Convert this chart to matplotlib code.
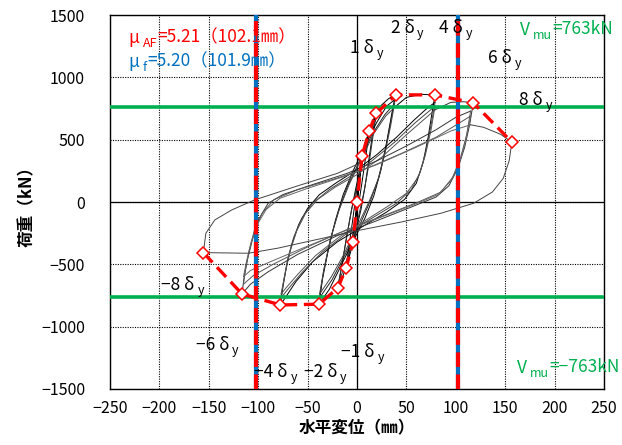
import numpy as np
import matplotlib
matplotlib.use('Agg')
import matplotlib.pyplot as plt

plt.rcParams['font.family'] = ['Noto Sans CJK JP', 'DejaVu Sans']
plt.rcParams['axes.unicode_minus'] = True

# envelope (skeleton) points, mm / kN
env_x = [-155.6, -116.4, -77.6, -38.5, -19.5, -11.1, -4.0, 0.0, 5.1, 12.5, 19.2, 39.5, 79.0, 117.7, 156.8]
env_y = [-406, -738, -826, -820, -690, -532, -320, 0, 371, 572, 711, 860, 860, 796, 481]

# hysteresis cycles (x in mm, y in kN), traced by eye
loop_pre1 = [(0, 0), (2, 160), (5.1, 371), (4, 280), (2, 120), (0, -20), (-2, -170), (-4, -320),
             (-3, -230), (-1, -80), (0, 0)]
loop_pre2 = [(0, 0), (4, 300), (8, 470), (12.5, 572), (10, 430), (6, 210), (2, 0), (-3, -200),
             (-7, -380), (-11.1, -532), (-9, -400), (-5, -180), (-1, 60), (3, 280), (8, 450)]
loop_1dy_a = [(8, 450), (12, 560), (15, 630), (19.2, 711), (16, 560), (12, 340), (8, 120), (4, -60),
              (-3, -300), (-10, -500), (-15, -610), (-19.5, -690), (-16, -540), (-11, -300),
              (-6, -80), (-1, 120), (5, 330), (11, 520), (19.2, 690)]
loop_1dy_b = [(19.2, 690), (16, 520), (12, 300), (7, 80), (2, -100), (-5, -330), (-12, -500),
              (-19, -660), (-15, -490), (-10, -260), (-5, -40), (1, 160), (7, 370), (13, 560), (19.2, 670)]
loop_2dy_a = [(19.2, 670), (25, 780), (32, 830), (39, 858), (35, 700), (30, 480), (24, 250), (17, 50),
              (8, -130), (-5, -330), (-18, -540), (-28, -700), (-38.5, -820), (-35, -620), (-29, -380),
              (-22, -150), (-14, 60), (-4, 250), (8, 450), (20, 640), (30, 770), (38, 820)]
loop_2dy_b = [(38, 820), (34, 640), (29, 430), (22, 200), (14, 20), (3, -180), (-12, -420), (-25, -620),
              (-38, -770), (-34, -560), (-27, -300), (-19, -80), (-10, 120), (2, 320), (15, 540),
              (28, 700), (38, 790)]
loop_2dy_c = [(38, 790), (34, 610), (28, 380), (21, 170), (12, 0), (0, -200), (-14, -430), (-26, -600),
              (-38, -740), (-33, -520), (-26, -270), (-18, -60), (-8, 140), (4, 340), (17, 550),
              (29, 690), (38, 760)]
loop_4dy_a = [(38, 760), (50, 840), (65, 865), (79, 858), (76, 720), (72, 520), (67, 320), (60, 150),
              (48, 20), (30, -80), (5, -200), (-20, -320), (-45, -480), (-62, -640), (-72, -760),
              (-77.6, -826), (-75, -680), (-71, -500), (-66, -340), (-59, -180), (-50, -50),
              (-38, 60), (-20, 160), (0, 260), (20, 380), (40, 520), (58, 660), (72, 760), (79, 800)]
loop_4dy_b = [(79, 800), (75, 620), (70, 420), (64, 240), (55, 100), (40, -10), (15, -130), (-10, -250),
              (-35, -400), (-55, -560), (-70, -700), (-77, -770), (-74, -620), (-70, -450), (-64, -280),
              (-56, -130), (-45, -10), (-28, 100), (-8, 200), (15, 330), (38, 480), (58, 630), (79, 770)]
loop_4dy_c = [(79, 770), (75, 580), (69, 370), (62, 200), (50, 70), (32, -30), (8, -150), (-18, -280),
              (-42, -430), (-60, -580), (-72, -690), (-77, -740), (-73, -580), (-68, -400), (-61, -230),
              (-52, -90), (-40, 20), (-22, 120), (0, 220), (25, 360), (50, 540), (79, 740)]
loop_6dy_a = [(79, 740), (95, 800), (108, 805), (117.7, 796), (114, 620), (109, 440), (102, 270),
              (93, 130), (80, 40), (55, -40), (20, -150), (-20, -270), (-60, -420), (-90, -560),
              (-108, -660), (-116.4, -738), (-114.7, -625), (-111, -465), (-106, -305), (-100, -144),
              (-90, -10), (-75, 60), (-45, 140), (-10, 230), (20, 330), (50, 450), (80, 580),
              (100, 680), (115, 730)]
loop_6dy_b = [(115, 730), (111, 540), (105, 360), (97, 200), (85, 80), (62, 0), (30, -100), (-10, -220),
              (-50, -360), (-85, -500), (-105, -590), (-115, -660), (-113, -540), (-109, -380),
              (-104, -230), (-96, -90), (-84, 20), (-60, 100), (-25, 180), (10, 270), (45, 390),
              (80, 520), (115, 690)]
loop_6dy_c = [(115, 690), (110, 500), (104, 320), (95, 170), (82, 60), (58, -20), (25, -120),
              (-15, -240), (-55, -370), (-88, -480), (-108, -550), (-115, -600), (-112, -480),
              (-107, -320), (-101, -180), (-92, -60), (-78, 30), (-50, 110), (-15, 200), (20, 300),
              (60, 440), (95, 570), (115, 620)]
loop_8dy = [(115, 620), (128, 600), (145, 545), (156.8, 481), (154, 330), (148, 190), (137, 80),
            (118, -10), (85, -90), (45, -160), (0, -230), (-43, -305), (-80, -370), (-110, -411),
            (-155.6, -406), (-153, -250), (-144, -144), (-127, -64), (-104, 16), (-60, 130),
            (-20, 230), (5, 320)]

loops = [loop_pre1, loop_pre2, loop_1dy_a, loop_1dy_b, loop_2dy_a, loop_2dy_b, loop_2dy_c,
         loop_4dy_a, loop_4dy_b, loop_4dy_c, loop_6dy_a, loop_6dy_b, loop_6dy_c, loop_8dy]
loop_colors = ['black', 'black', 'black', '#333333', 'black', '#222222', '#444444',
               'black', '#444444', '#555555', '#333333', '#555555', '#666666', '#444444']

mu_af = 102.1
mu_f = 101.9
v_mu = 763

# ductility labels: (text, x, y)
duct_labels = [('1', -7, 1235), ('2', 34, 1395), ('4', 83, 1395), ('6', 133, 1155), ('8', 164, 818),
               ('\u22121', -16, -1203), ('\u22122', -54, -1363), ('\u22124', -104, -1363),
               ('\u22126', -163, -1147), ('\u22128', -198, -666)]

red = '#FF0000'
blue = '#0070C0'
green = '#00B050'

fig = plt.figure(figsize=(6.22, 4.45), dpi=100)
ax = fig.add_axes([0.177, 0.126, 0.794, 0.840])

ax.set_xlim(-250, 250)
ax.set_ylim(-1500, 1500)
ax.set_xticks(np.arange(-250, 251, 50))
ax.set_yticks(np.arange(-1500, 1501, 500))
ax.tick_params(length=0, labelsize=11.5)
ax.tick_params(axis='y', pad=18)
ax.tick_params(axis='x', pad=8)
ax.grid(True, color='black', linestyle=(0, (1, 1.2)), linewidth=0.8)
ax.axhline(0, color='black', lw=0.9, zorder=1)
ax.axvline(0, color='black', lw=0.9, zorder=1)
for s in ax.spines.values():
    s.set_linewidth(1.0)

for lp, c in zip(loops, loop_colors):
    xs = [p[0] for p in lp]
    ys = [p[1] for p in lp]
    ax.plot(xs, ys, color=c, lw=0.7, zorder=2)

ax.axhline(v_mu, color=green, lw=2.6, zorder=3)
ax.axhline(-v_mu, color=green, lw=2.6, zorder=3)

for sgn in (-1, 1):
    ax.axvline(sgn * mu_f, color=blue, lw=3.0, zorder=4)
    ax.axvline(sgn * mu_af, color=red, lw=3.0, dashes=(3.5, 1.8), zorder=5)

ax.plot(env_x, env_y, color=red, lw=2.4, dashes=(4, 2), zorder=6)
ax.plot(env_x, env_y, linestyle='none', marker='D', ms=6.5, mfc='white', mec=red, mew=1.1, zorder=7)


def sub_text(x, y, parts, color, size=12):
    # parts: list of (text, kind) with kind 'n' normal, 'i' italic, 's' subscript
    prev = None
    for txt, kind in parts:
        style = 'italic' if kind == 'i' else 'normal'
        if prev is None:
            prev = ax.text(x, y, txt, color=color, fontsize=size, style=style,
                           va='center', ha='left', zorder=8)
        elif kind == 's':
            prev = ax.annotate(txt, xy=(1, 0.05), xycoords=prev, xytext=(2, -3),
                               textcoords='offset points', color=color, fontsize=size * 0.72,
                               va='bottom', ha='left', zorder=8)
        else:
            prev = ax.annotate(txt, xy=(1, 0.32), xycoords=prev, xytext=(0.5, 0),
                               textcoords='offset points', color=color, fontsize=size,
                               style=style, va='bottom', ha='left', zorder=8)


for txt, x, y in duct_labels:
    sub_text(x, y, [(txt + ' \u03b4', 'n'), ('y', 's')], 'black', size=12.5)

sub_text(-231, 1315, [('\u03bc', 'i'), ('AF', 's'), ('=5.21\uff08102.1\u339c\uff09', 'n')], red, 12.5)
sub_text(-231, 1123, [('\u03bc', 'i'), ('f', 's'), ('=5.20\uff08101.9\u339c\uff09', 'n')], blue, 12.5)
sub_text(165, 1380, [('V', 'n'), ('mu', 's'), ('=763kN', 'n')], green, 12.5)
sub_text(162, -1331, [('V', 'n'), ('mu', 's'), ('=\u2212763kN', 'n')], green, 12.5)

ax.set_xlabel('水平変位（\u339c）', fontsize=12, fontweight='bold', labelpad=2)
ax.set_ylabel('荷重（kN）', fontsize=12, fontweight='bold', labelpad=4)

fig.savefig('out.png', dpi=100)
